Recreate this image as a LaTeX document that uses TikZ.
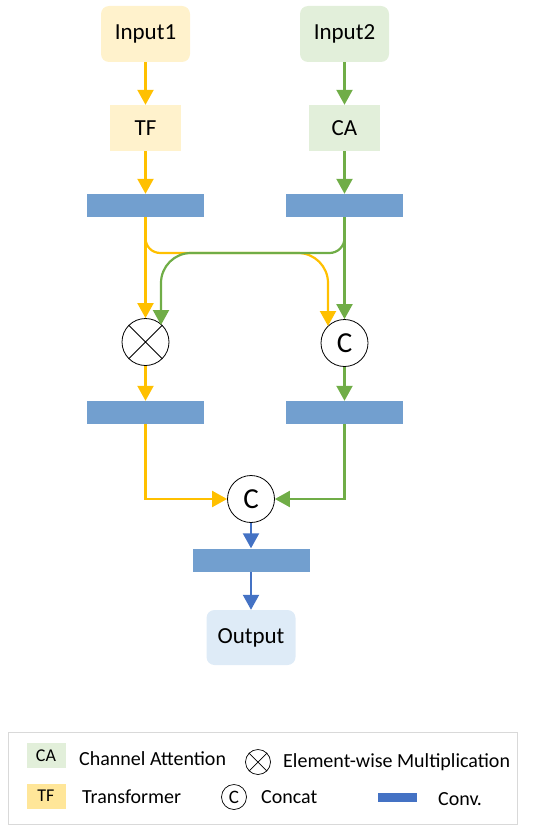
\documentclass[tikz,border=0pt]{standalone}
\usepackage{fontspec}
\setmainfont{Carlito}
\usetikzlibrary{arrows.meta,calc}
\definecolor{yel}{HTML}{FFC000}
\definecolor{grn}{HTML}{70AD47}
\definecolor{blu}{HTML}{4472C4}
\definecolor{convc}{HTML}{729FCF}
\definecolor{yfill}{HTML}{FFF2CC}
\definecolor{gfill}{HTML}{E2EFDA}
\definecolor{bfill}{HTML}{DEEBF7}
\definecolor{tfsw}{HTML}{FFE699}
\tikzset{
  iobox/.style={rectangle,rounded corners=8pt,minimum width=89pt,minimum height=56pt,inner sep=0pt,font=\fontsize{23}{25}\selectfont},
  modbox/.style={rectangle,minimum width=71pt,minimum height=46pt,inner sep=0pt,font=\fontsize{23}{25}\selectfont},
  convbar/.style={rectangle,fill=convc,minimum width=117pt,minimum height=23pt,inner sep=0pt},
  opcirc/.style={circle,draw=black,line width=0.8pt,minimum size=47pt,inner sep=0pt,fill=white,font=\fontsize{29}{30}\selectfont},
  flow/.style={line width=2.2pt,-{Triangle[width=16pt,length=15pt]}},
  legtext/.style={anchor=west,inner sep=0pt,font=\fontsize{20}{22}\selectfont},
  legcirc/.style={circle,draw=black,line width=0.7pt,minimum size=25pt,inner sep=0pt,font=\fontsize{19}{20}\selectfont},
  swatch/.style={rectangle,minimum width=39pt,minimum height=25pt,inner sep=0pt,font=\fontsize{18}{20}\selectfont},
}
\begin{document}
\begin{tikzpicture}[x=1pt,y=-1pt]
\useasboundingbox (0,0) rectangle (550,832);
% nodes
\node[iobox,fill=yfill] (in1) at (145.5,34) {Input1};
\node[iobox,fill=gfill] (in2) at (344.5,34) {Input2};
\node[modbox,fill=yfill] (tf) at (145.5,128) {TF};
\node[modbox,fill=gfill] (ca) at (344.5,128) {CA};
\node[convbar] (c1) at (145.5,205.5) {};
\node[convbar] (c2) at (344.5,205.5) {};
\node[opcirc] (mul) at (145.5,342) {};
\draw[line width=0.8pt] (mul.north west) -- (mul.south east) (mul.north east) -- (mul.south west);
\node[opcirc] (cat1) at (344.5,343) {C};
\node[convbar] (c3) at (145.5,412.5) {};
\node[convbar] (c4) at (344.5,412.5) {};
\node[opcirc] (cat2) at (251,499) {C};
\node[convbar] (c5) at (251,560) {};
\node[iobox,fill=bfill,minimum height=55pt] (out) at (251,637.5) {Output};
% straight arrows
\draw[flow,yel] (in1) -- (tf);
\draw[flow,yel] (tf) -- (c1);
\draw[flow,yel] (c1) -- (mul);
\draw[flow,yel] (mul) -- (c3);
\draw[flow,yel] (c3.south) |- (cat2.west);
\draw[flow,grn] (in2) -- (ca);
\draw[flow,grn] (ca) -- (c2);
\draw[flow,grn] (c2) -- (cat1);
\draw[flow,grn] (cat1) -- (c4);
\draw[flow,grn] (c4.south) |- (cat2.east);
\draw[flow,blu] (cat2) -- (c5);
\draw[flow,blu] (c5) -- (out);
% cross arrows
\coordinate (ytip) at ($(cat1.center)+(-16.5,-17)$);
\coordinate (gtip) at ($(mul.center)+(15.5,-17)$);
\draw[flow,yel] (c1.south) -- (145.5,238) .. controls (145.5,246.3) and (151.7,253) .. (160.5,253)
  -- (298,253) .. controls (314.6,253) and (328,266.4) .. (328,283) -- (ytip);
\draw[flow,grn] (c2.south) -- (344.5,238) .. controls (344.5,246.3) and (337.8,253) .. (329.5,253)
  -- (191,253) .. controls (174.4,253) and (161,266.4) .. (161,283) -- (gtip);
% legend
\node[draw=black!15,line width=1pt,minimum width=509pt,minimum height=92pt,inner sep=0pt] (leg) at (262.5,778) {};
\node[swatch,fill=gfill] (lca) at (46,755.5) {CA};
\node[legtext] (lcat) at (79,759) {Channel Attention};
\node[legcirc] (lmul) at (258,762) {};
\draw[line width=0.7pt] (lmul.north west) -- (lmul.south east) (lmul.north east) -- (lmul.south west);
\node[legtext] (lmult) at (283,762) {Element-wise Multiplication};
\node[swatch,fill=tfsw] (ltf) at (46,796) {TF};
\node[legtext] (ltft) at (82,797) {Transformer};
\node[legcirc] (lc) at (234,797) {C};
\node[legtext] (lct) at (261,797) {Concat};
\node[rectangle,fill=blu,minimum width=39pt,minimum height=9pt,inner sep=0pt] (lconv) at (397.5,797.5) {};
\node[legtext] (lconvt) at (438,799) {Conv.};
\end{tikzpicture}
\end{document}
